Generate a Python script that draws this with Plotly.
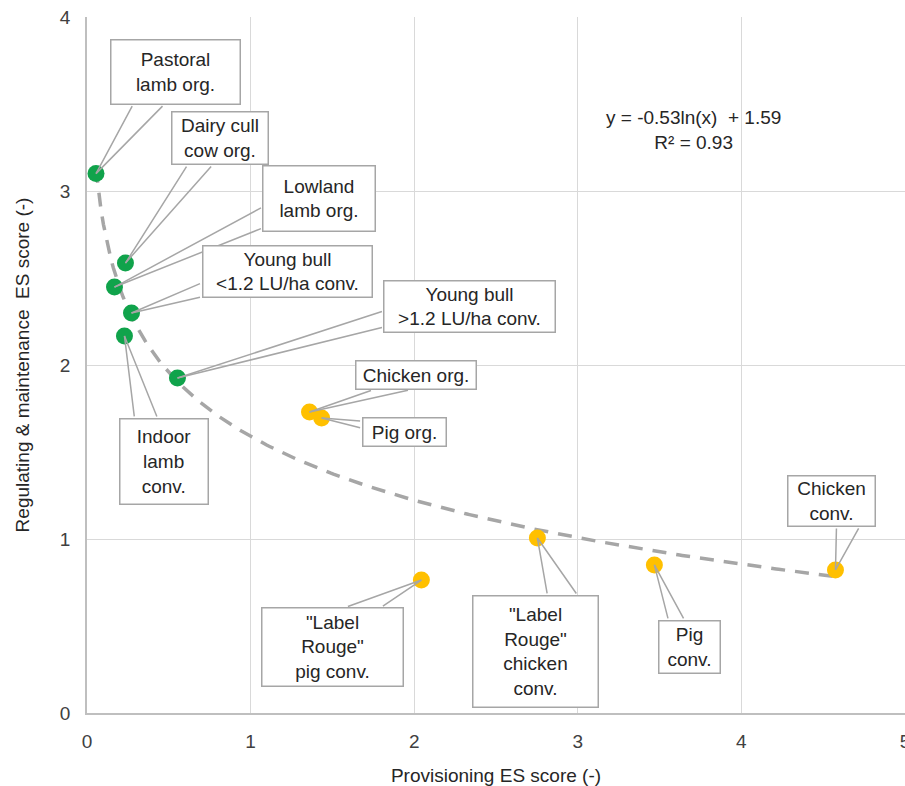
import numpy as np
import plotly.graph_objects as go

# ---------------- data ----------------
labels = [
    "Pastoral<br>lamb org.",
    "Dairy cull<br>cow org.",
    "Lowland<br>lamb org.",
    "Young bull<br>&lt;1.2 LU/ha conv.",
    "Indoor<br>lamb<br>conv.",
    "Young bull<br>&gt;1.2 LU/ha conv.",
    "Chicken org.",
    "Pig org.",
    "\"Label<br>Rouge\"<br>pig conv.",
    "\"Label<br>Rouge\"<br>chicken<br>conv.",
    "Pig<br>conv.",
    "Chicken<br>conv.",
]
provisioning = [0.055, 0.235, 0.168, 0.272, 0.229, 0.553, 1.36, 1.434, 2.044, 2.753, 3.468, 4.575]
regulating = [3.10, 2.586, 2.448, 2.299, 2.167, 1.925, 1.73, 1.695, 0.764, 1.006, 0.851, 0.822]
group = ["ruminant"] * 6 + ["monogastric"] * 6

# trendline coefficients as printed on the chart: y = a ln(x) + b
trend_a = -0.53
trend_b = 1.59
trend_r2 = 0.93

x_ticks = [0, 1, 2, 3, 4, 5]
y_ticks = [0, 1, 2, 3, 4]

# ---------------- styling / label layout (pixel offsets from point) ----------------
group_colors = {"ruminant": "#10a34b", "monogastric": "#ffc000"}
# (box centre dx, dy, box width, box height, wedge base 1, wedge base 2)
label_layout = [
    (79.5, -102, 131, 66, (37, -69), (68, -69)),
    (95, -125, 98, 54, (62, -98), (87, -98)),
    (205, -88.5, 114, 67, (148, -80), (148, -59)),
    (155.5, -41.5, 171, 53, (70, -30), (70, -16)),
    (40, 125.5, 90, 87, (10, 82), (33, 82)),
    (292.5, -71.5, 173, 53, (206, -67), (206, -51)),
    (106, -37, 122, 30, (63, -22), (100, -22)),
    (82.5, 14, 85, 30, (40, 3), (40, 10)),
    (-88.5, 67, 143, 80, (-75, 27), (-40, 27)),
    (-1.5, 113.5, 127, 113, (10, 57), (40, 57)),
    (35.5, 82, 63, 54, (14, 55), (30, 55)),
    (-3.5, -69, 89, 52, (1, -43), (24, -43)),
]

FONT = "Arial, 'Liberation Sans', sans-serif"
TXT = "#262626"
EDGE = "#a6a6a6"

fig = go.Figure()

# trendline
xs = np.linspace(min(provisioning), max(provisioning), 300)
ys = trend_a * np.log(xs) + trend_b
fig.add_trace(go.Scatter(
    x=xs, y=ys, mode="lines",
    line=dict(color="#a6a6a6", width=3.5, dash="14px,10px"),
    hoverinfo="skip", showlegend=False,
))

# points
fig.add_trace(go.Scatter(
    x=provisioning, y=regulating, mode="markers",
    marker=dict(size=17, color=[group_colors[g] for g in group], line=dict(width=0)),
    text=[l.replace("<br>", " ") for l in labels], hoverinfo="text",
    showlegend=False,
))

annotations = []
# wedge lines first
for xv, yv, lay in zip(provisioning, regulating, label_layout):
    for bx, by in (lay[4], lay[5]):
        annotations.append(dict(
            x=xv, y=yv, xref="x", yref="y", text="",
            showarrow=True, arrowhead=0, arrowwidth=1.5, arrowcolor=EDGE,
            ax=bx, ay=by, standoff=0, startstandoff=0,
        ))
# boxes
for xv, yv, lab, lay in zip(provisioning, regulating, labels, label_layout):
    dx, dy, w, h = lay[:4]
    annotations.append(dict(
        x=xv, y=yv, xref="x", yref="y", text=lab, showarrow=False,
        xshift=dx, yshift=-dy, xanchor="center", yanchor="middle",
        width=w - 3, height=h - 3, align="center", valign="middle",
        bgcolor="white", bordercolor=EDGE, borderwidth=1.5, borderpad=0,
        font=dict(family=FONT, size=19, color=TXT),
    ))

# equation
annotations.append(dict(
    x=3.71, y=3.348, xref="x", yref="y",
    text=f"y = {trend_a:.2f}ln(x)  + {trend_b:.2f}<br>R² = {trend_r2:.2f}",
    showarrow=False, align="center", xanchor="center", yanchor="middle",
    font=dict(family=FONT, size=19, color=TXT),
))

fig.update_layout(
    width=905, height=786,
    margin=dict(l=87, r=0, t=17, b=73),
    paper_bgcolor="white", plot_bgcolor="white",
    font=dict(family=FONT, size=19, color=TXT),
    annotations=annotations,
    xaxis=dict(
        range=[0, 5], tickvals=x_ticks, showgrid=True, gridcolor="#d9d9d9", gridwidth=1,
        zeroline=False, showline=True, linecolor="#bfbfbf", linewidth=1.5,
        ticks="", ticklabelstandoff=10, tickfont=dict(size=19, color="#404040"),
        ticklabeloverflow="allow", automargin=False,
        title=dict(text="Provisioning ES score (-)", font=dict(size=19, color=TXT), standoff=19),
    ),
    yaxis=dict(
        range=[0, 4], tickvals=y_ticks, showgrid=True, gridcolor="#d9d9d9", gridwidth=1,
        zeroline=False, showline=True, linecolor="#bfbfbf", linewidth=1.5,
        ticks="", ticklabelstandoff=11, tickfont=dict(size=19, color="#404040"),
        ticklabeloverflow="allow", automargin=False,
        title=dict(text="Regulating & maintenance  ES score (-)", font=dict(size=19, color=TXT), standoff=25),
    ),
)

fig.write_html("out.html", config={"displayModeBar": False},
               post_script="document.body.style.margin='0px';")
